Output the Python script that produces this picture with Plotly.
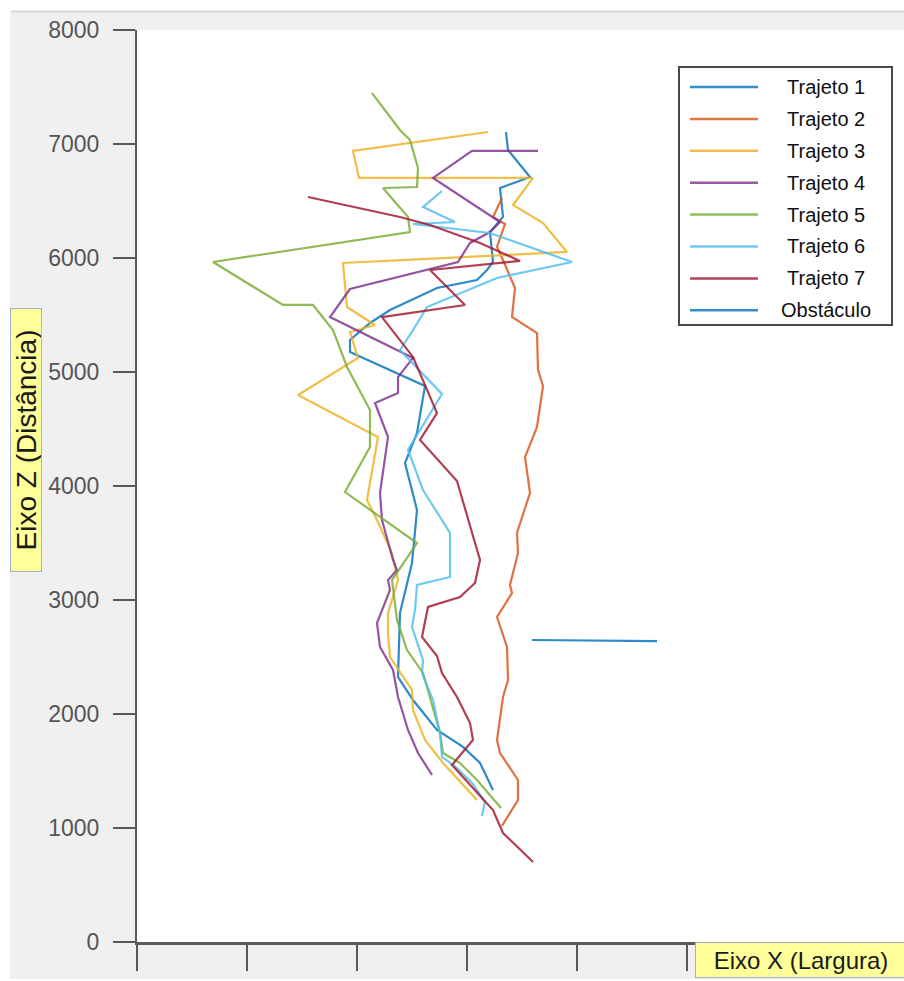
import plotly.graph_objects as go

# Route samples: X = largura (mm), Z = distância (mm)
traj1_x = [390, 410, 630, 330, 360, 230, 260, 200, 100, -300, -770, -970, -1170, -1170, -420, -500, -620, -500, -550, -670, -690, -540, -300, -40, 130, 260]
traj1_z = [7105, 6947, 6711, 6614, 6360, 6228, 5965, 5895, 5807, 5737, 5544, 5430, 5281, 5175, 4877, 4465, 4202, 3789, 3325, 2886, 2325, 2123, 1860, 1711, 1570, 1333]

traj2_x = [350, 260, 380, 300, 360, 480, 450, 700, 710, 760, 700, 580, 630, 500, 510, 430, 450, 300, 400, 410, 360, 300, 330, 510, 510, 350]
traj2_z = [6526, 6360, 6298, 6096, 5982, 5737, 5482, 5342, 5018, 4877, 4518, 4254, 3939, 3588, 3412, 3132, 3061, 2851, 2588, 2298, 2149, 1772, 1658, 1421, 1246, 1018]

traj3_x = [210, -1140, -1080, 660, 460, 760, 1000, -1240, -1200, -920, -1170, -1090, -1690, -890, -1000, -900, -750, -690, -790, -790, -770, -550, -540, -420, -240, 100]
traj3_z = [7105, 6939, 6702, 6702, 6465, 6307, 6053, 5956, 5570, 5412, 5351, 5123, 4798, 4430, 3877, 3702, 3412, 3175, 2886, 2711, 2500, 2211, 2035, 1772, 1570, 1246]

traj4_x = [710, 50, -340, 330, 230, 30, -90, -1170, -1370, -970, -540, -690, -690, -920, -790, -870, -850, -740, -700, -790, -770, -900, -870, -740, -690, -590, -490, -350]
traj4_z = [6939, 6939, 6702, 6316, 6228, 6132, 5965, 5728, 5482, 5307, 5123, 4956, 4816, 4728, 4430, 3939, 3702, 3351, 3263, 3175, 3088, 2798, 2588, 2386, 2149, 1860, 1658, 1465]

traj5_x = [-950, -670, -570, -490, -500, -840, -590, -570, -2540, -1840, -1540, -1340, -1200, -970, -970, -1220, -500, -750, -700, -600, -440, -340, -270, -240, -70, 100, 340]
traj5_z = [7447, 7123, 7035, 6789, 6623, 6614, 6360, 6228, 5965, 5588, 5588, 5368, 5044, 4667, 4342, 3947, 3500, 3175, 2825, 2561, 2360, 2061, 1833, 1658, 1570, 1421, 1175]

traj6_x = [-250, -440, -120, -540, 230, 1050, 300, -400, -540, -670, -250, -590, -440, -170, -170, -500, -520, -550, -440, -450, -340, -270, -250, -100, 50, 180, 150]
traj6_z = [6588, 6447, 6316, 6298, 6219, 5965, 5825, 5570, 5368, 5193, 4807, 4316, 3965, 3588, 3202, 3132, 2912, 2763, 2474, 2360, 2123, 1833, 1623, 1526, 1395, 1228, 1105]

traj7_x = [-1590, -670, -370, 130, 530, -370, -20, -850, -540, -300, -470, -100, 130, 80, -70, -390, -450, -300, -250, -100, 30, 60, -150, 80, 260, 360, 660]
traj7_z = [6535, 6360, 6289, 6132, 5974, 5895, 5588, 5482, 5132, 4640, 4404, 4044, 3351, 3149, 3026, 2939, 2675, 2509, 2360, 2149, 1921, 1772, 1553, 1333, 1158, 956, 702]

obst_x = [650, 1900]
obst_z = [2649, 2640]

names = ["Trajeto 1", "Trajeto 2", "Trajeto 3", "Trajeto 4", "Trajeto 5",
         "Trajeto 6", "Trajeto 7", "Obstáculo"]
colors = ["#0072BD", "#D95319", "#EDB120", "#7E2F8E", "#77AC30",
          "#4DBEEE", "#A2142F", "#0072BD"]
series_x = [traj1_x, traj2_x, traj3_x, traj4_x, traj5_x, traj6_x, traj7_x, obst_x]
series_z = [traj1_z, traj2_z, traj3_z, traj4_z, traj5_z, traj6_z, traj7_z, obst_z]

W, H = 904, 981
ML, MR, MT, MB = 137, 0, 30, 39
PW, PH = W - ML - MR, H - MT - MB


def px(x):
    """Horizontal page pixel -> paper coordinate."""
    return (x - ML) / PW


def py(y):
    """Vertical page pixel -> paper coordinate."""
    return (H - MB - y) / PH


fig = go.Figure()
for xs, zs, name, col in zip(series_x, series_z, names, colors):
    fig.add_trace(go.Scatter(x=xs, y=zs, mode="lines", name=name,
                             line=dict(color=col, width=2.2), opacity=0.82,
                             showlegend=False))

axis_col = "#5a5a5a"
fig.update_layout(
    width=W, height=H,
    margin=dict(l=ML, r=MR, t=MT, b=MB, pad=0),
    paper_bgcolor="#f0f0f0", plot_bgcolor="#ffffff",
    font=dict(family="Liberation Sans, Arial, sans-serif", color="#222"),
    showlegend=False,
    xaxis=dict(range=[-3300, 4370], tick0=0, dtick=1100, ticks="outside",
               ticklen=26, tickwidth=2, tickcolor=axis_col,
               showticklabels=False, showgrid=False, zeroline=False,
               showline=True, linecolor=axis_col, linewidth=3),
    yaxis=dict(range=[0, 8000], tick0=0, dtick=1000, ticks="outside",
               ticklen=22, tickwidth=2, tickcolor=axis_col,
               tickfont=dict(size=23, color="#555"), ticklabelstandoff=9,
               showgrid=False, zeroline=False,
               showline=True, linecolor=axis_col, linewidth=2),
)

shapes = [
    # white page edges around the grey panel
    dict(type="rect", xref="paper", yref="paper", x0=px(0), x1=px(W), y0=py(11), y1=py(0),
         fillcolor="#ffffff", line=dict(width=0), layer="above"),
    dict(type="line", xref="paper", yref="paper", x0=px(11), x1=px(W), y0=py(11.5), y1=py(11.5),
         line=dict(color="#d6d6d6", width=2), layer="above"),
    dict(type="rect", xref="paper", yref="paper", x0=px(0), x1=px(10), y0=py(H), y1=py(0),
         fillcolor="#ffffff", line=dict(width=0), layer="above"),
    dict(type="rect", xref="paper", yref="paper", x0=px(0), x1=px(W), y0=py(H), y1=py(979),
         fillcolor="#ffffff", line=dict(width=0), layer="above"),
    # legend frame
    dict(type="rect", xref="paper", yref="paper", x0=px(679), x1=px(892), y0=py(325), y1=py(67),
         fillcolor="#ffffff", line=dict(color="#4a4a4a", width=2), layer="above"),
]

annotations = []
row0, row_gap = 87, 31.9
for i, (name, col) in enumerate(zip(names, colors)):
    yy = row0 + i * row_gap
    shapes.append(dict(type="line", xref="paper", yref="paper",
                       x0=px(690), x1=px(758), y0=py(yy), y1=py(yy),
                       line=dict(color=col, width=2.5), opacity=0.8, layer="above"))
    annotations.append(dict(xref="paper", yref="paper", x=px(826), y=py(yy),
                            text=name, showarrow=False, xanchor="center", yanchor="middle",
                            font=dict(size=20, color="#111")))

# axis titles in highlighted boxes
annotations.append(dict(xref="paper", yref="paper", x=px(26), y=py(440),
                        text="Eixo Z (Distância)", showarrow=False, textangle=-90,
                        xanchor="center", yanchor="middle",
                        font=dict(size=28, color="#1a1a1a"),
                        bgcolor="#ffff99", bordercolor="#9fb4cc", borderwidth=1,
                        borderpad=0, width=262, height=30))
annotations.append(dict(xref="paper", yref="paper", x=px(801), y=py(960.5),
                        text="Eixo X (Largura)", showarrow=False,
                        xanchor="center", yanchor="middle",
                        font=dict(size=24, color="#1a1a1a"),
                        bgcolor="#ffff99", bordercolor="#9fb4cc", borderwidth=1,
                        borderpad=0, width=210, height=34))

fig.update_layout(shapes=shapes, annotations=annotations)
fig.write_html("out.html")
